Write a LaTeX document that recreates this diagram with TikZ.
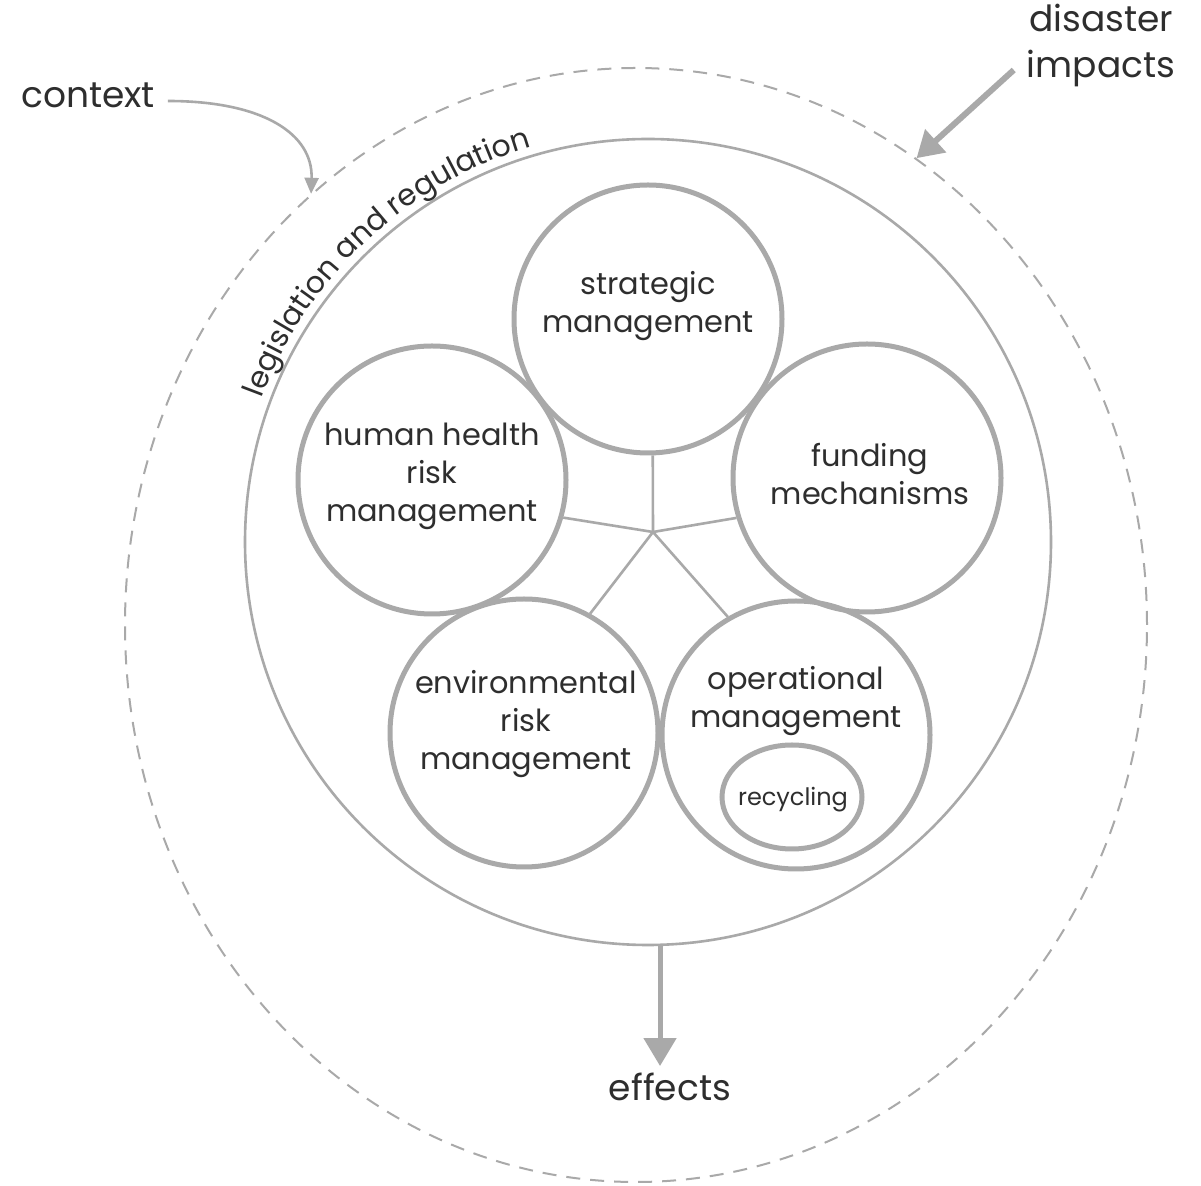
\documentclass[tikz,border=0pt]{standalone}
\usepackage{fontspec}
\setmainfont{Poppins}
\usetikzlibrary{arrows.meta,decorations.text,shapes.geometric}
\definecolor{lgray}{HTML}{A9A9A9}
\definecolor{txt}{HTML}{2E2E2E}
\begin{document}
\begin{tikzpicture}[x=0.5pt,y=0.5pt,
  bub/.style={circle,draw=lgray,line width=2.5pt,minimum size=134pt,inner sep=0pt},
  lbl/.style={text=txt,align=center,font=\fontsize{15.2}{19}\selectfont},
  recl/.style={text=txt,align=center,font=\fontsize{12}{14}\selectfont},
  big/.style={text=txt,align=center,font=\fontsize{18}{23}\selectfont},
  hubline/.style={draw=lgray,line width=1.3pt},
  ]
\useasboundingbox[fill=white] (0,0) rectangle (1201,-1186);
% outer dashed context ellipse
\node[ellipse,draw=lgray,line width=1pt,dash pattern=on 7pt off 5pt,
      minimum width=511pt,minimum height=557pt,inner sep=0pt] (outer) at (636,-625) {};
% legislation and regulation circle
\node[circle,draw=lgray,line width=1.3pt,minimum size=403pt,inner sep=0pt] (law) at (648,-542) {};
\path[postaction={decorate},decoration={text along path,text align=center,
   text={|\fontsize{15}{18}\selectfont\color{txt}|legislation and regulation}}]
   (648,-542) ++(166:206pt) arc[start angle=166,end angle=100,radius=206pt];
% bubbles
\node[bub] (SM) at (648,-319) {};
\node[bub] (HH) at (432,-480) {};
\node[bub] (FM) at (867,-478) {};
\node[bub] (ER) at (524,-733) {};
\node[bub] (OM) at (796,-735) {};
\node[ellipse,draw=lgray,line width=2.5pt,minimum width=70pt,minimum height=52pt,inner sep=0pt] (REC) at (792,-797) {};
% hub
\coordinate (hub) at (653,-532);
\draw[hubline] (hub) -- (SM.272);
\draw[hubline] (hub) -- (HH.344);
\draw[hubline] (hub) -- (FM.197);
\draw[hubline] (hub) -- (ER.61);
\draw[hubline] (hub) -- (OM.120);
% labels
\node[lbl] (tSM) at (648,-306) {strategic\\management};
\node[lbl] (tHH) at (432,-476) {human health\\risk\\management};
\node[lbl] (tFM) at (870,-474) {funding\\mechanisms};
\node[lbl] (tER) at (526,-724) {environmental\\risk\\management};
\node[lbl] (tOM) at (796,-701) {operational\\management};
\node[recl] (tREC) at (793,-800) {recycling};
% outside labels
\node[big] (context) at (88,-95) {context};
\node[big] (dis) at (1101,-45) {disaster\\impacts};
\node[big] (effects) at (670,-1087) {effects};
% arrows
\draw[lgray,line width=1.3pt,-{Triangle[length=8pt,width=7pt]}]
   ([shift={(6,-6)}]context.east) .. controls +(95,0) and +(2,60) .. (outer.127);
\draw[lgray,line width=3pt,-{Triangle[length=13pt,width=15pt]}]
   ([shift={(-6,-25)}]dis.west) -- (outer.59);
\draw[lgray,line width=2.5pt,-{Triangle[length=14pt,width=16pt]}]
   ([xshift=6pt]law.south) -- ([xshift=-5pt]effects.north);
\end{tikzpicture}
\end{document}
